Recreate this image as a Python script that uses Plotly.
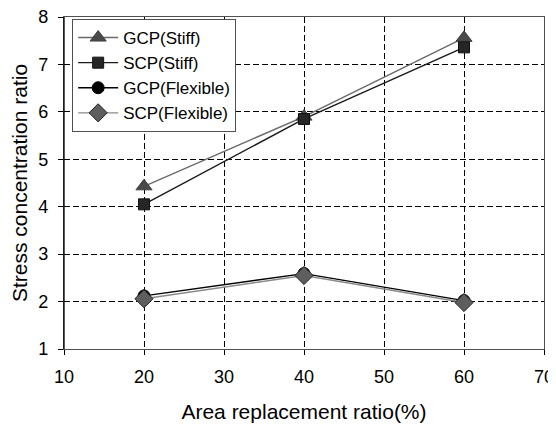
import plotly.graph_objects as go

area_ratio = [20, 40, 60]
gcp_stiff = [4.43, 5.90, 7.56]
scp_stiff = [4.05, 5.85, 7.36]
gcp_flexible = [2.12, 2.59, 2.02]
scp_flexible = [2.06, 2.55, 1.98]

x_ticks = [10, 20, 30, 40, 50, 60, 70]
y_ticks = [1, 2, 3, 4, 5, 6, 7, 8]

FONT = "Liberation Sans, Arial, sans-serif"

fig = go.Figure()
fig.add_trace(go.Scatter(
    x=area_ratio, y=gcp_stiff, name="GCP(Stiff)", mode="lines+markers",
    line=dict(color="#6a6a6a", width=1.4),
    marker=dict(symbol="triangle-up", size=14, color="#4a4a4a",
                line=dict(color="#404040", width=1))))
fig.add_trace(go.Scatter(
    x=area_ratio, y=scp_stiff, name="SCP(Stiff)", mode="lines+markers",
    line=dict(color="#1a1a1a", width=1.4),
    marker=dict(symbol="square", size=11, color="#262626",
                line=dict(color="#111111", width=1))))
fig.add_trace(go.Scatter(
    x=area_ratio, y=gcp_flexible, name="GCP(Flexible)", mode="lines+markers",
    line=dict(color="#000000", width=1.4),
    marker=dict(symbol="circle", size=12, color="#000000",
                line=dict(color="#000000", width=1))))
fig.add_trace(go.Scatter(
    x=area_ratio, y=scp_flexible, name="SCP(Flexible)", mode="lines+markers",
    line=dict(color="#8a8a8a", width=1.4),
    marker=dict(symbol="diamond", size=14, color="#5e5e5e",
                line=dict(color="#222222", width=1))))

axis_common = dict(
    showgrid=True, gridcolor="#000000", gridwidth=1, griddash="6px,3px",
    zeroline=False, showline=True, mirror=True, linecolor="#505050", linewidth=1.3,
    ticks="outside", ticklen=5, tickcolor="#000000", tickwidth=1,
    tickfont=dict(family=FONT, size=18, color="#000000"),
    automargin=False, ticklabeloverflow="allow",
)

# the page body adds an 8px offset, so the figure is 8px smaller
fig.update_layout(
    width=548, height=417,
    margin=dict(l=56, r=12, t=9, b=76, autoexpand=False),
    paper_bgcolor="white", plot_bgcolor="white",
    font=dict(family=FONT, color="#000000"),
    showlegend=True,
    legend=dict(
        x=0.017, y=0.994, xanchor="left", yanchor="top",
        bgcolor="white", bordercolor="#505050", borderwidth=1,
        font=dict(family=FONT, size=17, color="#000000"),
        itemwidth=40, tracegroupgap=0,
    ),
    xaxis=dict(
        range=[10, 70], tickvals=x_ticks, ticktext=[str(v) for v in x_ticks],
        title=dict(text="Area replacement ratio(%)", standoff=18,
                   font=dict(family=FONT, size=21, color="#000000")),
        ticklabelstandoff=6,
        **axis_common),
    yaxis=dict(
        range=[1, 8], tickvals=y_ticks, ticktext=[str(v) for v in y_ticks],
        title=dict(text="Stress concentration ratio", standoff=14,
                   font=dict(family=FONT, size=21, color="#000000")),
        ticklabelstandoff=6,
        **axis_common),
)

# darker left axis edge as in the reference
fig.add_shape(type="line", xref="paper", yref="paper", x0=0, x1=0, y0=0, y1=1,
              line=dict(color="#000000", width=1.3), layer="above")

fig.write_html("out.html")
